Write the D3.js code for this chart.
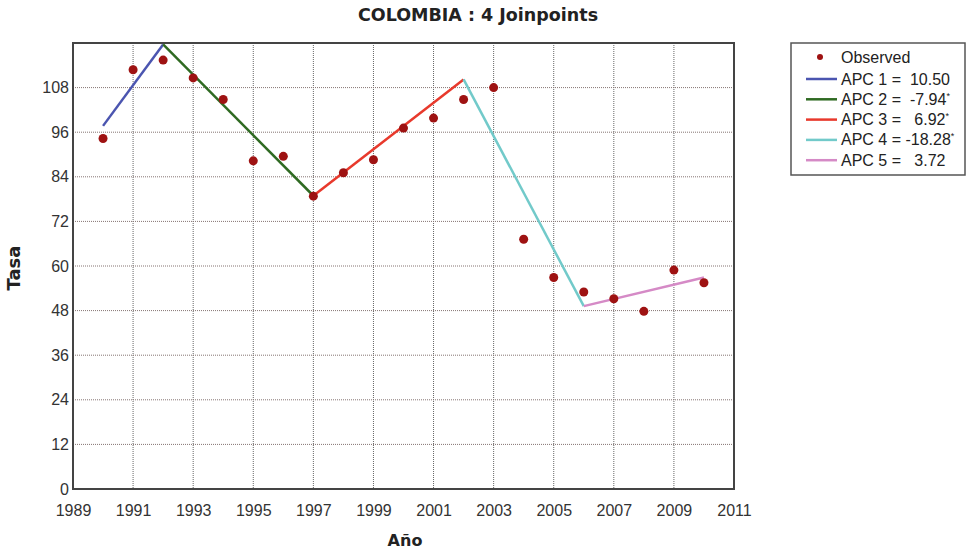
<!DOCTYPE html>
<html><head><meta charset="utf-8">
<script src="https://cdn.jsdelivr.net/npm/d3@7"></script>
<style>body{margin:0;background:#fff;} svg{display:block;}</style>
</head><body>
<svg id="c" width="974" height="550"></svg>
<script>
const years = [1990,1991,1992,1993,1994,1995,1996,1997,1998,1999,2000,2001,2002,2003,2004,2005,2006,2007,2008,2009,2010];
const observed = [94.3,112.8,115.4,110.6,104.8,88.3,89.5,78.8,85.1,88.6,97.1,99.8,104.8,108.0,67.2,56.9,53.0,51.2,47.8,58.9,55.5];
const segYears = [[1990,1992],[1992,1997],[1997,2002],[2002,2006],[2006,2010]];
const segValues = [[97.7,119.6],[119.6,78.9],[78.9,110.2],[110.2,49.2],[49.2,56.9]];
const segLabels = ["APC 1 =  10.50","APC 2 =  -7.94","APC 3 =   6.92","APC 4 = -18.28","APC 5 =   3.72"];
const segStar = [false,true,true,true,false];
const segColors = ["#4b55b0","#2f6a22","#e8392c","#72caca","#d58ac6"];
const xTicks = [1989,1991,1993,1995,1997,1999,2001,2003,2005,2007,2009,2011];
const yTicks = [0,12,24,36,48,60,72,84,96,108];

const svg = d3.select("#c");
const L=73,R=734,T=43,B=489;
const x = d3.scaleLinear().domain([1989,2011]).range([L,R]);
const y = d3.scaleLinear().domain([0,120]).range([B,T]);
const font = "'Liberation Sans', Arial, sans-serif";
const bfont = "'DejaVu Sans', Verdana, sans-serif";

// grid
svg.append("g").selectAll("line").data(xTicks.slice(1,-1)).join("line")
  .attr("x1",d=>x(d)).attr("x2",d=>x(d)).attr("y1",T).attr("y2",B)
  .attr("stroke","#666").attr("stroke-width",1).attr("stroke-dasharray","1,1");
svg.append("g").selectAll("line").data(yTicks.slice(1)).join("line")
  .attr("x1",L).attr("x2",R).attr("y1",d=>y(d)).attr("y2",d=>y(d))
  .attr("stroke","#857472").attr("stroke-width",1).attr("stroke-dasharray","1,1");

// axes
const xa = svg.append("g").attr("transform",`translate(0,${B})`)
  .call(d3.axisBottom(x).tickValues(xTicks).tickFormat(d3.format("d")).tickSize(0).tickPadding(16));
const ya = svg.append("g").attr("transform",`translate(${L},0)`)
  .call(d3.axisLeft(y).tickValues(yTicks).tickSize(0).tickPadding(4));
[xa,ya].forEach(a=>{a.select(".domain").remove();
  a.selectAll("text").attr("font-family",font).attr("font-size",16).attr("fill","#333");});

// border
svg.append("rect").attr("x",L).attr("y",T).attr("width",R-L).attr("height",B-T)
  .attr("fill","none").attr("stroke","#444").attr("stroke-width",2);

// segments
const line = d3.line().x(d=>x(d[0])).y(d=>y(d[1]));
segYears.forEach((ys,i)=>{
  svg.append("path").datum(ys.map((yr,j)=>[yr,segValues[i][j]]))
    .attr("d",line).attr("fill","none").attr("stroke",segColors[i]).attr("stroke-width",2.5);
});

// observed
svg.append("g").selectAll("circle").data(years).join("circle")
  .attr("cx",d=>x(d)).attr("cy",(d,i)=>y(observed[i])).attr("r",4.5).attr("fill","#9e1212");

// title and axis titles
svg.append("text").attr("x",478).attr("y",21).attr("text-anchor","middle")
  .attr("font-family",bfont).attr("font-weight","bold").attr("font-size",17.5)
  .attr("fill","#222").text("COLOMBIA : 4 Joinpoints");
svg.append("text").attr("transform","translate(20,268) rotate(-90)").attr("text-anchor","middle")
  .attr("font-family",bfont).attr("font-weight","bold").attr("font-size",18)
  .attr("fill","#222").text("Tasa");
svg.append("text").attr("x",405).attr("y",546).attr("text-anchor","middle")
  .attr("font-family",bfont).attr("font-weight","bold").attr("font-size",16)
  .attr("fill","#222").text("Año");

// legend
const lg = svg.append("g");
lg.append("rect").attr("x",791).attr("y",43).attr("width",174).attr("height",132)
  .attr("fill","#fff").attr("stroke","#555").attr("stroke-width",1.5);
lg.append("circle").attr("cx",820).attr("cy",57).attr("r",3).attr("fill","#9e1212");
lg.append("text").attr("x",841).attr("y",63).attr("font-family",font).attr("font-size",16).attr("fill","#222").text("Observed");
segLabels.forEach((s,i)=>{
  const yy = 79 + i*20.3;
  lg.append("line").attr("x1",806).attr("x2",837).attr("y1",yy).attr("y2",yy)
    .attr("stroke",segColors[i]).attr("stroke-width",2.5);
  const t = lg.append("text").attr("x",841).attr("y",yy+5.5).attr("font-family",font).attr("font-size",16)
    .attr("fill","#222").attr("xml:space","preserve").style("white-space","pre").text(s);
  if(segStar[i]) t.append("tspan").attr("font-size",9).attr("dy",-6).text("*");
});
</script>
</body></html>
